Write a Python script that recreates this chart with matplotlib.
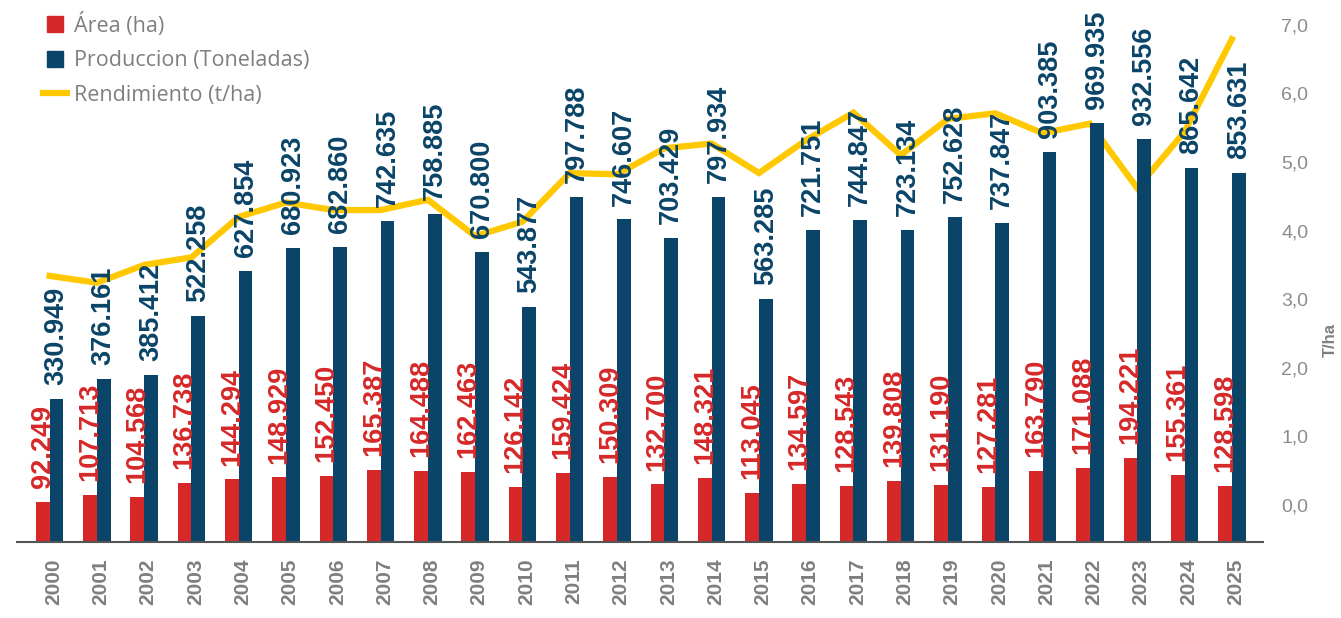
import numpy as np
import matplotlib.pyplot as plt
import matplotlib.transforms as mtransforms
from matplotlib.lines import Line2D

years = [str(y) for y in range(2000, 2026)]

# Area (ha) and production (tons) as shown in the labels
area = [92.249, 107.713, 104.568, 136.738, 144.294, 148.929, 152.450, 165.387,
        164.488, 162.463, 126.142, 159.424, 150.309, 132.700, 148.321, 113.045,
        134.597, 128.543, 139.808, 131.190, 127.281, 163.790, 171.088, 194.221,
        155.361, 128.598]
produccion = [330.949, 376.161, 385.412, 522.258, 627.854, 680.923, 682.860,
              742.635, 758.885, 670.800, 543.877, 797.788, 746.607, 703.429,
              797.934, 563.285, 721.751, 744.847, 723.134, 752.628, 737.847,
              903.385, 969.935, 932.556, 865.642, 853.631]
# Rendimiento (t/ha)
rendimiento = [3.34, 3.24, 3.50, 3.61, 4.20, 4.41, 4.30, 4.30, 4.45, 3.92,
               4.13, 4.84, 4.82, 5.20, 5.27, 4.84, 5.32, 5.72, 5.10, 5.63,
               5.71, 5.42, 5.56, 4.62, 5.44, 6.79]

RED = '#d62828'
NAVY = '#0a4468'
YELLOW = '#ffc800'
GRAY = '#7f7f7f'

plt.rcParams['font.family'] = ['Liberation Sans', 'DejaVu Sans']

W, H = 1341, 618
fig = plt.figure(figsize=(W / 100, H / 100), dpi=100)
ax = fig.add_axes([17 / W, (H - 541.7) / H, (1263 - 17) / W, 541.7 / H])
ax2 = ax.twinx()

x = np.arange(len(years))
bw = 0.29
ax.bar(x - bw / 2, area, bw, color=RED, zorder=2)
ax.bar(x + bw / 2, produccion, bw, color=NAVY, zorder=2)

for xi, a, p in zip(x, area, produccion):
    ax.annotate(f'{a:.3f}', (xi - bw / 2, a), xytext=(0, 10), textcoords='offset points',
                rotation=90, ha='center', va='bottom', color=RED,
                fontsize=19.5, fontweight='bold', zorder=5)
    ax.annotate(f'{p:.3f}', (xi + bw / 2, p), xytext=(0, 10), textcoords='offset points',
                rotation=90, ha='center', va='bottom', color=NAVY,
                fontsize=19.5, fontweight='bold', zorder=5)

ax.set_xlim(-0.69, 25.66)
ax.set_ylim(0, 1255)
ax.set_yticks([])
ax.set_xticks(x)
ax.set_xticklabels(years, rotation=90, fontsize=15, fontweight='bold', color=GRAY)
ax.tick_params(axis='x', length=0, pad=12)
shift = mtransforms.ScaledTranslation(4 / 100, 0, fig.dpi_scale_trans)
for lab in ax.get_xticklabels():
    lab.set_transform(lab.get_transform() + shift)
for s in ['top', 'left', 'right']:
    ax.spines[s].set_visible(False)
ax.spines['bottom'].set_color('#555555')
ax.spines['bottom'].set_linewidth(1.5)

ax2.plot(x, rendimiento, color=YELLOW, lw=4.5, solid_joinstyle='miter', zorder=3)
ax2.set_ylim(-0.535, 7.362)
ax2.set_yticks(range(0, 8))
ax2.set_yticklabels([f'{v},0' for v in range(0, 8)], fontsize=14, color='#8c8c8c')
ax2.tick_params(axis='y', length=0, pad=13)
for s in ax2.spines.values():
    s.set_visible(False)

# keep labels above the line
ax.set_zorder(ax2.get_zorder() + 1)
ax.patch.set_visible(False)

fig.text(1330 / W, 1 - 340 / H, 'T/ha', rotation=90, ha='center', va='center',
         fontsize=12, fontweight='bold', color=GRAY)

handles = [
    Line2D([], [], marker='s', linestyle='none', markersize=12, color=RED),
    Line2D([], [], marker='s', linestyle='none', markersize=12, color=NAVY),
    Line2D([], [], color=YELLOW, lw=4.5),
]
leg = fig.legend(handles, ['Área (ha)', 'Produccion (Toneladas)', 'Rendimiento (t/ha)'],
                 loc='upper left', bbox_to_anchor=(43 / W, 1 - 13 / H), frameon=False,
                 handlelength=1.1, handletextpad=0.35, labelspacing=0.62,
                 borderpad=0, borderaxespad=0,
                 prop={'family': ['Open Sans', 'DejaVu Sans'], 'size': 15.5})
for t in leg.get_texts():
    t.set_color(GRAY)

fig.savefig('out.png', dpi=100, facecolor='white')
